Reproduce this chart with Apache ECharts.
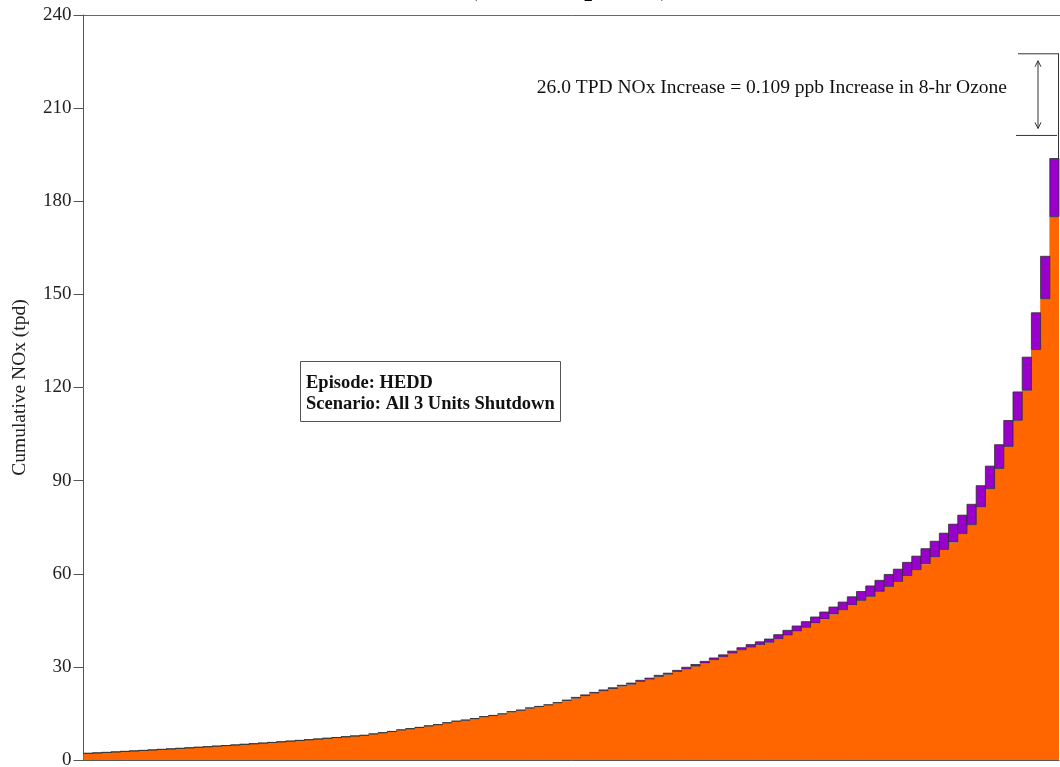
<!DOCTYPE html>
<html><head><meta charset="utf-8">
<script src="https://cdn.jsdelivr.net/npm/echarts@6/dist/echarts.min.js"></script>
<style>html,body{margin:0;padding:0;background:#fff}#c{width:1060px;height:767px}</style>
</head><body><div id="c"></div>
<script>
// Sources sorted by cumulative NOx (106 units)
const baseNOx = [
  2.10,2.25,2.40,2.56,2.72,2.88,3.04,3.20,3.37,3.54,
  3.71,3.88,4.06,4.24,4.42,4.61,4.80,5.00,5.20,5.40,
  5.61,5.82,6.04,6.26,6.49,6.72,6.96,7.20,7.45,7.70,
  7.85,8.3,8.7,9.1,9.6,10.0,10.4,10.9,11.3,11.9,
  12.4,12.7,13.2,13.8,14.2,14.7,15.4,15.9,16.6,17.1,
  17.6,18.3,19.1,19.8,20.6,21.4,22.2,22.9,23.7,24.3,
  25.2,25.9,26.8,27.5,28.4,29.2,30.1,31.1,32.2,33.1,
  34.3,35.4,36.2,37.0,37.8,38.9,40.1,41.4,42.6,44.0,
  45.3,46.9,48.3,49.8,51.3,52.6,54.2,55.8,57.4,59.3,
  61.2,63.1,65.3,67.7,70.1,72.8,75.7,81.4,87.3,93.8,
  100.9,109.3,119.0,132.1,148.5,174.9
];
const increaseNOx = [
  0.1,0.1,0.1,0.1,0.1,0.1,0.1,0.1,0.1,0.1,
  0.1,0.1,0.1,0.1,0.1,0.1,0.1,0.1,0.1,0.1,
  0.1,0.1,0.1,0.1,0.1,0.1,0.1,0.1,0.1,0.1,
  0.2,0.2,0.2,0.2,0.2,0.2,0.2,0.2,0.2,0.2,
  0.2,0.3,0.3,0.3,0.3,0.3,0.3,0.3,0.3,0.3,
  0.3,0.3,0.3,0.5,0.5,0.5,0.5,0.5,0.5,0.6,
  0.6,0.6,0.6,0.6,0.6,0.8,0.8,0.8,0.8,0.9,
  0.9,0.9,1.1,1.2,1.3,1.6,1.8,1.9,2.1,2.2,
  2.5,2.5,2.7,2.9,3.1,3.6,3.8,4.1,4.2,4.5,
  4.6,5.1,5.3,5.5,6.0,6.2,6.8,7.1,7.5,7.9,
  8.6,9.4,10.9,12.1,13.9,19.0
];
const units = baseNOx.map((_, i) => 'U' + (i + 1));
const yMin = 0, yMax = 240, yStep = 30;
const titleText = '(HEDD Episode)';
const yAxisTitle = 'Cumulative NOx (tpd)';
const annotationText = '26.0 TPD NOx Increase = 0.109 ppb Increase in 8-hr Ozone';
const bracketTop = 227.5, bracketBottom = 201.2;
const infoLines = ['Episode: HEDD', 'Scenario: All 3 Units Shutdown'];

const serif = '"Liberation Serif", "DejaVu Serif", serif';
const chart = echarts.init(document.getElementById('c'), null, {renderer: 'canvas'});
const gridL = 83.5, gridR = 1, gridT = 15, gridB = 7;
const bandW = (1060 - gridL - gridR) / units.length;
const barW = bandW + 0.8;
chart.setOption({
  animation: false,
  backgroundColor: '#fff',
  title: {
    text: titleText, left: 564, top: -31, textAlign: 'center',
    textStyle: {fontFamily: serif, fontSize: 28, fontWeight: 'bold', color: '#000'}
  },
  grid: {left: gridL, right: gridR, top: gridT, bottom: gridB, show: false,
         outerBoundsMode: 'none', containLabel: false},
  xAxis: {
    type: 'category', data: units, boundaryGap: true,
    axisLine: {show: true, lineStyle: {color: '#555'}}, axisTick: {show: false}, axisLabel: {show: false},
    splitLine: {show: false}
  },
  yAxis: {
    type: 'value', min: yMin, max: yMax, interval: yStep,
    name: yAxisTitle, nameLocation: 'middle', nameGap: 54, nameRotate: 90,
    nameTextStyle: {fontFamily: serif, fontSize: 19.5, color: '#222'},
    axisLine: {show: true, lineStyle: {color: '#555', width: 1}},
    axisTick: {show: true, inside: false, length: 10, lineStyle: {color: '#555'}},
    axisLabel: {fontFamily: serif, fontSize: 19, color: '#222', margin: 12},
    splitLine: {show: false}
  },
  series: [
    {type: 'bar', stack: 'nox', data: baseNOx, barWidth: barW, barGap: '0%',
     itemStyle: {color: '#FF6600', borderWidth: 0}, z: 2},
    {type: 'bar', stack: 'nox', data: increaseNOx, barWidth: barW, barGap: '0%',
     itemStyle: {color: '#9900CC', borderColor: '#2b2b2b', borderWidth: 0.8}, z: 3}
  ]
});

const yp = v => chart.convertToPixel({yAxisIndex: 0}, v);
const rightX = 1060 - gridR;
const lastTop = baseNOx[baseNOx.length - 1] + increaseNOx[increaseNOx.length - 1];
const yT = yp(bracketTop), yB = yp(bracketBottom);
const yMaxPx = Math.round(yp(yMax)) + 0.5;
const arrowX = rightX - 21;
const ay1 = yT + 7, ay2 = yB - 7;
const stroke = {stroke: '#333', lineWidth: 1, fill: null};
chart.setOption({
  graphic: [
    {type: 'line', shape: {x1: gridL, y1: yMaxPx, x2: 1060, y2: yMaxPx}, style: {stroke: '#666', lineWidth: 1}, z: 10},
    {type: 'line', shape: {x1: rightX - 41, y1: yT, x2: rightX, y2: yT}, style: stroke, z: 10},
    {type: 'line', shape: {x1: rightX - 43, y1: yB, x2: rightX - 2, y2: yB}, style: stroke, z: 10},
    {type: 'line', shape: {x1: rightX - 0.5, y1: yT, x2: rightX - 0.5, y2: yp(lastTop)}, style: stroke, z: 10},
    {type: 'line', shape: {x1: arrowX, y1: ay1, x2: arrowX, y2: ay2}, style: stroke, z: 10},
    {type: 'polyline', shape: {points: [[arrowX - 3, ay1 + 6], [arrowX, ay1], [arrowX + 3, ay1 + 6]]}, style: stroke, z: 10},
    {type: 'polyline', shape: {points: [[arrowX - 3, ay2 - 6], [arrowX, ay2], [arrowX + 3, ay2 - 6]]}, style: stroke, z: 10},
    {type: 'text', x: rightX - 52, y: yp(216.5), z: 10,
     style: {text: annotationText, font: '19.5px ' + serif, fill: '#111', align: 'right', verticalAlign: 'middle'}},
    {type: 'rect', shape: {x: 300.5, y: 361.5, width: 260, height: 60},
     style: {fill: '#fff', stroke: '#555', lineWidth: 1}, z: 10},
    {type: 'text', x: 306, y: 383, z: 11,
     style: {text: infoLines[0], font: 'bold 18.5px ' + serif, fill: '#111', verticalAlign: 'middle'}},
    {type: 'text', x: 306, y: 404, z: 11,
     style: {text: infoLines[1], font: 'bold 18.5px ' + serif, fill: '#111', verticalAlign: 'middle'}}
  ]
});
</script></body></html>
